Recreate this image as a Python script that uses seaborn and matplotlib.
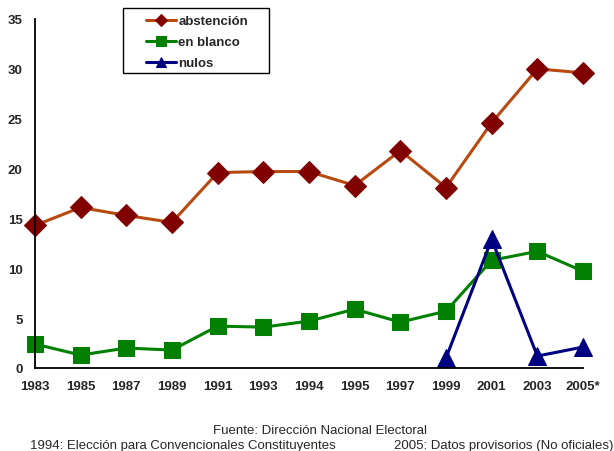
import pandas as pd
import matplotlib.pyplot as plt
import matplotlib.patches as mpatches
import seaborn as sns

# --- DATA ---
years = ["1983", "1985", "1987", "1989", "1991", "1993", "1994",
         "1995", "1997", "1999", "2001", "2003", "2005*"]
abstencion = [14.3, 16.1, 15.3, 14.6, 19.6, 19.7, 19.7, 18.3, 21.8, 18.1, 24.6, 30.0, 29.6]
en_blanco = [2.4, 1.3, 2.0, 1.8, 4.2, 4.1, 4.7, 5.9, 4.6, 5.7, 10.8, 11.7, 9.7]
nulos = [None] * 9 + [1.0, 12.9, 1.2, 2.1]

df = pd.DataFrame({"pos": range(len(years)), "year": years,
                   "abstención": abstencion, "en blanco": en_blanco, "nulos": nulos})

# --- FIGURE ---
sns.set_style("white")
plt.rcParams["font.family"] = ["Liberation Sans", "DejaVu Sans"]

fig = plt.figure(figsize=(6.14, 4.52), dpi=100)
ax = fig.add_axes([35 / 614, 1 - 369 / 452, 548 / 614, 349 / 452])

sns.lineplot(data=df, x="pos", y="abstención", ax=ax, color="#B84A10", lw=2.2,
             marker="D", markersize=11, markerfacecolor="#800000",
             markeredgecolor="#800000", label="abstención")
sns.lineplot(data=df, x="pos", y="en blanco", ax=ax, color="#008000", lw=2.2,
             marker="s", markersize=11, markerfacecolor="#008000",
             markeredgecolor="#008000", label="en blanco")
sns.lineplot(data=df.dropna(), x="pos", y="nulos", ax=ax, color="#000080", lw=2.2,
             marker="^", markersize=12.5, markerfacecolor="#000080",
             markeredgecolor="#000080", label="nulos")

ax.set_xlim(0, len(years) - 1)
ax.set_ylim(0, 35)
ax.set_xticks(df["pos"])
ax.set_xticklabels(years)
ax.set_yticks(range(0, 36, 5))
ax.set_xlabel("")
ax.set_ylabel("")
for lbl in ax.get_xticklabels() + ax.get_yticklabels():
    lbl.set_fontweight("bold")
    lbl.set_fontsize(9.5)

sns.despine(ax=ax)
for side in ["left", "bottom"]:
    ax.spines[side].set_color("black")
    ax.spines[side].set_linewidth(1.3)
ax.tick_params(axis="both", direction="out", length=4, width=1.2, color="black", pad=5)
ax.patch.set_alpha(0)
for ln in ax.lines:
    ln.set_clip_on(False)

# legend: entries without frame, box drawn separately (wider than the entries)
ax.get_legend().remove()
handles, labels = ax.get_legend_handles_labels()
leg = fig.legend(handles, labels, loc="upper left",
                 bbox_to_anchor=(146 / 614, 1 - 16 / 452), markerscale=0.6,
                 handlelength=2.3, handletextpad=0.15, labelspacing=0.66,
                 prop={"weight": "bold", "size": 9.5}, frameon=False,
                 borderpad=0, borderaxespad=0)
fig.patches.append(mpatches.Rectangle((123 / 614, 1 - 74 / 452), 146 / 614, 65 / 452,
                                      transform=fig.transFigure, fill=False,
                                      edgecolor="black", linewidth=1.0))

fig.text(320 / 614, 1 - 431 / 452, "Fuente: Dirección Nacional Electoral",
         ha="center", va="center", fontsize=9.5)
fig.text(30 / 614, 1 - 446 / 452, "1994: Elección para Convencionales Constituyentes",
         ha="left", va="center", fontsize=9.5)
fig.text(613 / 614, 1 - 446 / 452, "2005: Datos provisorios (No oficiales)",
         ha="right", va="center", fontsize=9.5)

fig.savefig("out.png", dpi=100)
